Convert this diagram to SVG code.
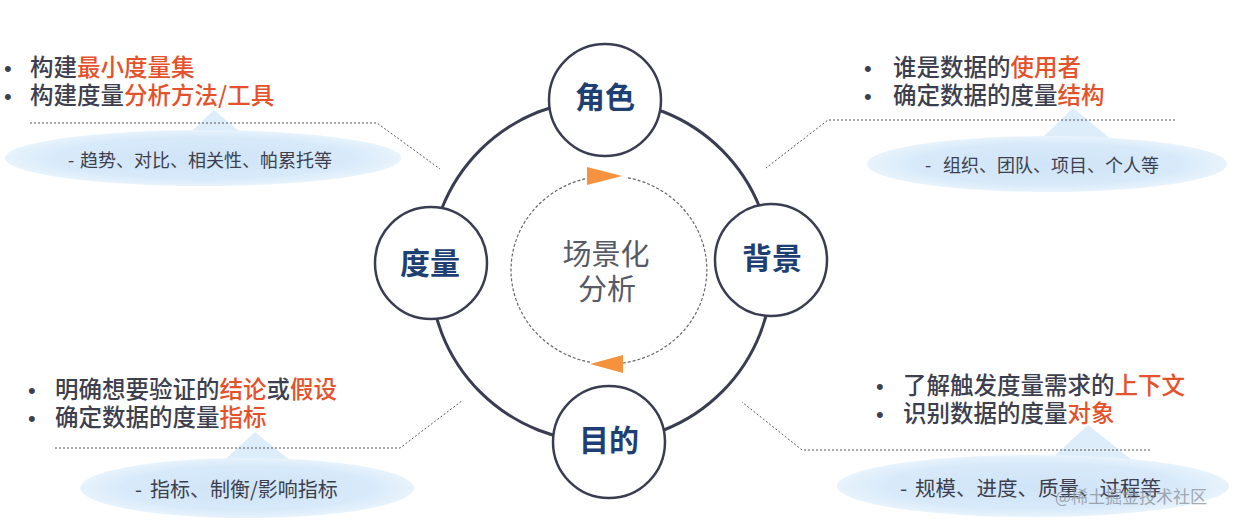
<svg xmlns="http://www.w3.org/2000/svg" width="1233" height="524" viewBox="0 0 1233 524">
<defs>
<style>
.t{font-family:"Noto Sans CJK SC","Noto Sans",sans-serif;fill:#3d3f4f;font-size:23.5px;font-weight:500}
.b{font-family:"Liberation Sans",Arial,sans-serif;fill:#3d3f4f;font-size:22px}
.hl{fill:#e5512a}
.sub{font-family:"Noto Sans CJK SC","Noto Sans",sans-serif;fill:#3d3f4f;font-size:18px}
.node circle{fill:#fff;stroke:#3a3d52;stroke-width:2.5}
.node text{font-family:"Noto Sans CJK SC","Noto Sans",sans-serif;font-weight:bold;font-size:30px;fill:#1e3f73;text-anchor:middle}
.dash{fill:none;stroke:#555;stroke-width:1;stroke-dasharray:2 2}
.bubble{fill:url(#bg)}
.peak{fill:#deedfa}
.tri{fill:#f5923e}
</style>
<radialGradient id="bg" cx="0.5" cy="0.5" r="0.5">
<stop offset="0" stop-color="#cfe4f7"/>
<stop offset="0.75" stop-color="#d8eafa"/>
<stop offset="1" stop-color="#e8f3fc"/>
</radialGradient>
</defs>
<rect width="1233" height="524" fill="#fff"/>

<!-- callout bubbles -->
<g id="bubble-tl">
<path class="peak" d="M180 142 L214 110 L252 142 Z"/>
<ellipse class="bubble" cx="203" cy="158" rx="198" ry="28"/>
<text class="sub" x="68" y="167">-</text>
<text class="sub" x="80" y="167">趋势、对比、相关性、帕累托等</text>
</g>
<g id="bubble-tr">
<path class="peak" d="M1040 140 L1073 108 L1112 140 Z"/>
<ellipse class="bubble" cx="1047" cy="164" rx="180" ry="28"/>
<text class="sub" x="925" y="172">-</text>
<text class="sub" x="943" y="172">组织、团队、项目、个人等</text>
</g>
<g id="bubble-bl">
<path class="peak" d="M222 462 L255 432 L292 462 Z"/>
<ellipse class="bubble" cx="247" cy="488" rx="167" ry="30"/>
<text class="sub" x="135" y="497" style="font-size:20px">-</text>
<text class="sub" x="150" y="497" style="font-size:20px">指标、制衡/影响指标</text>
</g>
<g id="bubble-br">
<path class="peak" d="M1050 460 L1088 425 L1132 460 Z"/>
<ellipse class="bubble" cx="1033" cy="486" rx="196" ry="31"/>
<text class="sub" x="900" y="496" style="font-size:20.5px">-</text>
<text class="sub" x="915" y="496" style="font-size:20.5px">规模、进度、质量、过程等</text>
</g>

<!-- connectors -->
<g id="connectors">
<circle cx="601" cy="271" r="171" fill="none" stroke="#3a3d52" stroke-width="3"/>
<path class="dash" d="M30 123 L377 123 L440 169"/>
<path class="dash" d="M1175 120 L828 120 L766 168"/>
<path class="dash" d="M55 448 L400 448 L463 400"/>
<path class="dash" d="M1150 450 L802 450 L742 402"/>
<path d="M628 177.8 A98 94 0 0 1 623 363 M590 362.2 A98 94 0 0 1 587 178.4" fill="none" stroke="#666" stroke-width="1.2" stroke-dasharray="3 2"/>
<polygon class="tri" points="587,167 587,185 622,176"/>
<polygon class="tri" points="623,355 623,373 590,364"/>
</g>

<!-- center -->
<g id="center">
<text x="606" y="265" text-anchor="middle" style="font-family:'Noto Sans CJK SC','Noto Sans',sans-serif;font-size:29px;fill:#555a66">场景化</text>
<text x="607" y="300" text-anchor="middle" style="font-family:'Noto Sans CJK SC','Noto Sans',sans-serif;font-size:29px;fill:#555a66">分析</text>
</g>

<!-- nodes -->
<g id="node-role" class="node"><circle cx="605" cy="100" r="56"/><text x="605" y="108">角色</text></g>
<g id="node-bg" class="node"><circle cx="771" cy="260" r="56"/><text x="772" y="269">背景</text></g>
<g id="node-goal" class="node"><circle cx="609" cy="442" r="56"/><text x="609" y="451">目的</text></g>
<g id="node-measure" class="node"><circle cx="431" cy="263" r="56"/><text x="430" y="274">度量</text></g>

<!-- bullet texts -->
<g id="text-tl">
<text class="b" x="4" y="76">•</text>
<text class="t" x="30" y="76">构建</text><text class="t hl" x="77" y="76">最小度量集</text>
<text class="b" x="4" y="104">•</text>
<text class="t" x="30" y="104">构建度量</text><text class="t hl" x="124" y="104">分析方法/工具</text>
</g>
<g id="text-tr">
<text class="b" x="864" y="76">•</text>
<text class="t" x="893" y="76">谁是数据的</text><text class="t hl" x="1010.5" y="76">使用者</text>
<text class="b" x="864" y="104">•</text>
<text class="t" x="893" y="104">确定数据的度量</text><text class="t hl" x="1057.5" y="104">结构</text>
</g>
<g id="text-bl">
<text class="b" x="28" y="398">•</text>
<text class="t" x="55" y="398">明确想要验证的</text><text class="t hl" x="219.5" y="398">结论</text><text class="t" x="266.5" y="398">或</text><text class="t hl" x="290" y="398">假设</text>
<text class="b" x="28" y="426">•</text>
<text class="t" x="55" y="426">确定数据的度量</text><text class="t hl" x="219.5" y="426">指标</text>
</g>
<g id="text-br">
<text class="b" x="876" y="394">•</text>
<text class="t" x="903" y="394">了解触发度量需求的</text><text class="t hl" x="1114.5" y="394">上下文</text>
<text class="b" x="876" y="422">•</text>
<text class="t" x="903" y="422">识别数据的度量</text><text class="t hl" x="1067.5" y="422">对象</text>
</g>

<text x="1055" y="503" style="font-family:'Noto Sans CJK SC','Noto Sans',sans-serif;font-size:17px;fill:#8a8f99;opacity:0.75">@稀土掘金技术社区</text>
</svg>
